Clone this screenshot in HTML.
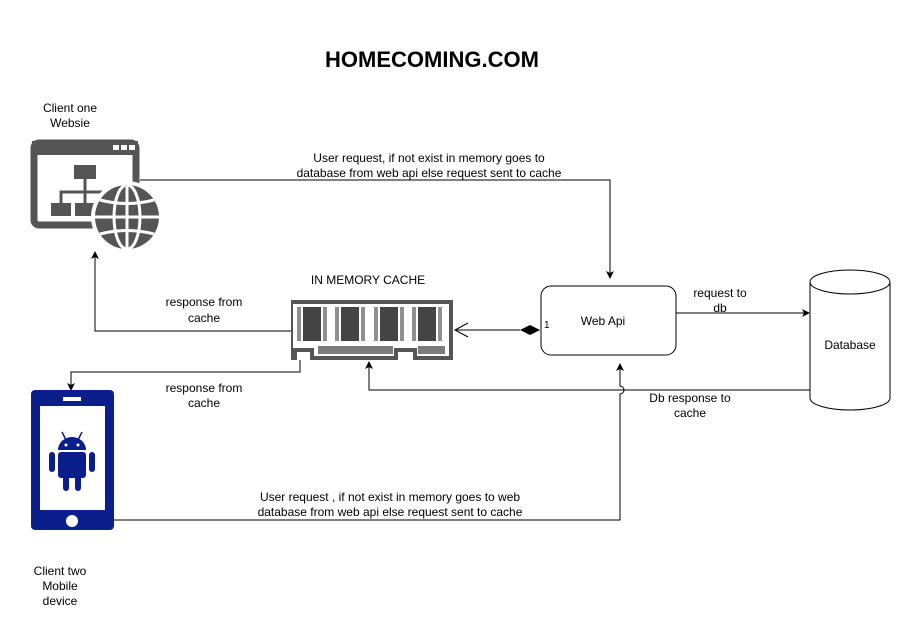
<!DOCTYPE html>
<html><head><style>body{margin:0;background:#fff}svg{display:block}text{font-family:"Liberation Sans",Arial,sans-serif;font-size:12px;fill:#000}</style></head><body>
<svg width="921" height="637" viewBox="0 0 921 637" xmlns="http://www.w3.org/2000/svg">
<defs>
<marker id="a" markerWidth="8" markerHeight="8" refX="7" refY="4" orient="auto" markerUnits="userSpaceOnUse"><path d="M0,0 L8,4 L0,8 L2,4 Z" fill="#000"/></marker>
</defs>
<rect width="921" height="637" fill="#fff"/>
<text x="432" y="67" text-anchor="middle" style="font-size:22px;font-weight:bold">HOMECOMING.COM</text>
<text x="70" y="112" text-anchor="middle">Client one</text>
<text x="70" y="127" text-anchor="middle">Websie</text>
<rect x="34" y="143" width="102" height="82" rx="5" fill="none" stroke="#555" stroke-width="7"/>
<rect x="32" y="141" width="106" height="14" fill="#555"/>
<rect x="113" y="145" width="6" height="5" fill="#fff"/><rect x="121" y="145" width="6" height="5" fill="#fff"/><rect x="129" y="145" width="6" height="5" fill="#fff"/>
<rect x="74" y="165" width="22" height="14" fill="#555"/>
<path d="M85,179 V192 M61,203 V192 H109 V203 M85,192 V203" stroke="#555" stroke-width="3" fill="none"/>
<rect x="51" y="203" width="20" height="13" fill="#555"/><rect x="75" y="203" width="20" height="13" fill="#555"/>
<circle cx="127" cy="217" r="36" fill="#fff"/>
<circle cx="127" cy="217" r="32" fill="#555"/>
<g stroke="#fff" stroke-width="3" fill="none"><ellipse cx="127" cy="217" rx="13" ry="32"/><line x1="127" y1="185" x2="127" y2="249"/><line x1="95" y1="217" x2="159" y2="217"/><path d="M100,200 Q127,207 154,200 M100,234 Q127,227 154,234"/></g>
<path d="M140,180 H610 V278" fill="none" stroke="#000" marker-end="url(#a)"/>
<text x="429" y="162" text-anchor="middle">User request, if not exist in memory goes to</text>
<text x="429" y="177" text-anchor="middle">database from web api else request sent to cache</text>
<rect x="541" y="286" width="135" height="69" rx="10" fill="#fff" stroke="#000"/>
<text x="603" y="325" text-anchor="middle">Web Api</text>
<text x="544" y="328" style="font-size:10px">1</text>
<path d="M540,330 L530,325 L520,330 L530,335 Z" fill="#000"/>
<path d="M520,330 H455 M468,323 L455,330 L468,337" fill="none" stroke="#000"/>
<text x="368" y="284" text-anchor="middle">IN MEMORY CACHE</text>
<path d="M291,300 H453 V360 H413 V352 H398 V360 H310 V352 H297 V360 H291 Z" fill="#555"/>
<path d="M295,304 H449 V356 H417 V348 H394 V356 H314 V348 H293 V304 Z" fill="#fff"/>
<rect x="303" y="307" width="18" height="34" fill="#444"/><rect x="341" y="307" width="18" height="34" fill="#444"/><rect x="380" y="307" width="18" height="34" fill="#444"/><rect x="418" y="307" width="18" height="34" fill="#444"/>
<g fill="#444"><rect x="297" y="307" width="4" height="34" opacity=".6"/><rect x="323" y="307" width="4" height="34" opacity=".6"/><rect x="335" y="307" width="4" height="34" opacity=".6"/><rect x="361" y="307" width="4" height="34" opacity=".6"/><rect x="374" y="307" width="4" height="34" opacity=".6"/><rect x="400" y="307" width="4" height="34" opacity=".6"/><rect x="412" y="307" width="4" height="34" opacity=".6"/><rect x="438" y="307" width="4" height="34" opacity=".6"/></g>
<g fill="#444"><rect x="318" y="346" width="75" height="8" opacity=".7"/><rect x="418" y="346" width="27" height="8" opacity=".7"/></g>
<path d="M291,331 H95 V252" fill="none" stroke="#000" marker-end="url(#a)"/>
<text x="204" y="306" text-anchor="middle">response from</text>
<text x="204" y="322" text-anchor="middle">cache</text>
<path d="M300,360 V372 H71 V390" fill="none" stroke="#000" marker-end="url(#a)"/>
<text x="204" y="392" text-anchor="middle">response from</text>
<text x="204" y="407" text-anchor="middle">cache</text>
<path d="M676,313 H809" fill="none" stroke="#000" marker-end="url(#a)"/>
<text x="720" y="297" text-anchor="middle">request to</text>
<text x="720" y="312" text-anchor="middle">db</text>
<path d="M810,282 V398 A40,12 0 0 0 890,398 V282" fill="#fff" stroke="#000"/>
<ellipse cx="850" cy="282" rx="40" ry="12" fill="#fff" stroke="#000"/>
<text x="850" y="349" text-anchor="middle">Database</text>
<path d="M810,390 H369 V362" fill="none" stroke="#000" marker-end="url(#a)"/>
<text x="690" y="402" text-anchor="middle">Db response to</text>
<text x="690" y="417" text-anchor="middle">cache</text>
<rect x="31" y="390" width="83" height="140" rx="4" fill="#0a1e8c"/>
<rect x="40" y="406" width="65" height="104" fill="#fff"/>
<rect x="63" y="397" width="18" height="4" fill="#fff"/>
<circle cx="72" cy="521" r="6" fill="#fff"/>
<g fill="#0a1e8c"><path d="M58,450 A14,13 0 0 1 86,450 Z"/><rect x="58" y="452" width="28" height="26" rx="3"/><rect x="49" y="452" width="6" height="20" rx="3"/><rect x="89" y="452" width="6" height="20" rx="3"/><rect x="63" y="474" width="6" height="17" rx="3"/><rect x="75" y="474" width="6" height="17" rx="3"/><path d="M62,432 L66,440 M82,432 L78,440" stroke="#0a1e8c" stroke-width="1.5"/></g>
<circle cx="66" cy="445" r="1.5" fill="#fff"/><circle cx="78" cy="445" r="1.5" fill="#fff"/>
<path d="M114,520 H620 V394 A4,4 0 0 0 620,386 V364" fill="none" stroke="#000" marker-end="url(#a)"/>
<text x="390" y="501" text-anchor="middle">User request , if not exist in memory goes to web</text>
<text x="390" y="516" text-anchor="middle">database from web api else request sent to cache</text>
<text x="60" y="575" text-anchor="middle">Client two</text>
<text x="60" y="590" text-anchor="middle">Mobile</text>
<text x="60" y="605" text-anchor="middle">device</text>
</svg>
</body></html>
